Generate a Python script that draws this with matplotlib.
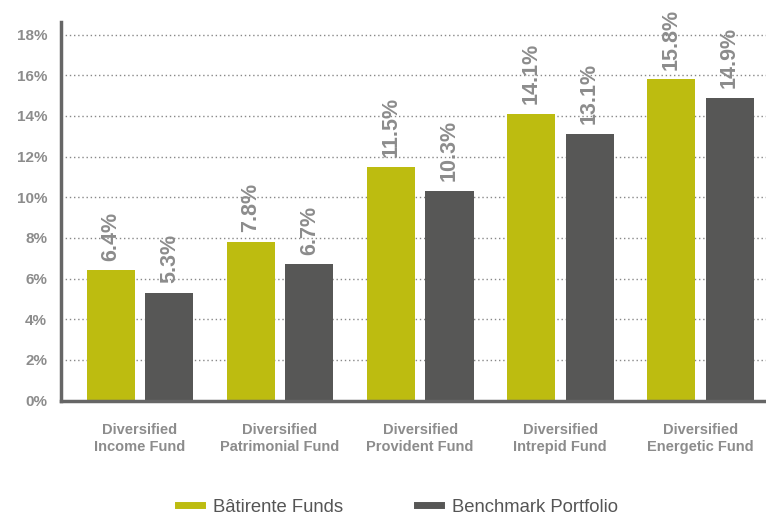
import matplotlib
matplotlib.use("Agg")
import matplotlib.pyplot as plt
import numpy as np
from matplotlib.lines import Line2D

categories = ["Diversified\nIncome Fund", "Diversified\nPatrimonial Fund", "Diversified\nProvident Fund",
              "Diversified\nIntrepid Fund", "Diversified\nEnergetic Fund"]
batirente = [6.4, 7.8, 11.5, 14.1, 15.8]
benchmark = [5.3, 6.7, 10.3, 13.1, 14.9]
series_names = ["Bâtirente Funds", "Benchmark Portfolio"]
yticks = [0, 2, 4, 6, 8, 10, 12, 14, 16, 18]

GREEN = "#BDBC10"
DARK = "#575756"
TXT = "#8C8C8C"

plt.rcParams['font.family'] = ["Liberation Sans", "DejaVu Sans"]

fig = plt.figure(figsize=(7.66, 5.16), dpi=100)
ax = fig.add_axes([61/766, 1-400.5/516, 1-61/766, (400.5-22)/516])

x = np.arange(len(categories))
w = 0.343
off = 0.21
b1 = ax.bar(x - off, batirente, w, color=GREEN, zorder=3)
b2 = ax.bar(x + off, benchmark, w, color=DARK, zorder=3)

for bars, vals in ((b1, batirente), (b2, benchmark)):
    for r, v in zip(bars, vals):
        ax.annotate(f"{v:.1f}%", (r.get_x() + r.get_width()/2, v), xytext=(0, 7),
                    textcoords="offset points", rotation=90, ha="center", va="bottom",
                    fontsize=15.5, fontweight="bold", color=TXT, zorder=4)

ax.set_xlim(-0.564, 4.47)
ax.set_ylim(0, 18.62)
ax.set_yticks(yticks)
ax.set_yticklabels([f"{t}%" for t in yticks], fontsize=11, fontweight="bold", color=TXT)
ax.set_xticks(x)
ax.set_xticklabels(categories, fontsize=10.5, fontweight="bold", color=TXT, linespacing=1.3)
ax.tick_params(axis="both", length=0)
ax.tick_params(axis="y", pad=10)
ax.tick_params(axis="x", pad=16)
ax.yaxis.grid(True, linestyle=(0, (1, 2)), color="#888888", linewidth=1.0, zorder=0)
for s in ["top", "right"]:
    ax.spines[s].set_visible(False)
for s in ["left", "bottom"]:
    ax.spines[s].set_color("#666666")
    ax.spines[s].set_linewidth(2.5)
    ax.spines[s].set_zorder(5)

handles = [Line2D([0], [0], color=GREEN, lw=5), Line2D([0], [0], color=DARK, lw=5)]
leg = fig.legend(handles, series_names, loc="center", bbox_to_anchor=(0.52, 1-507/516), ncol=2,
                 frameon=False, fontsize=13.3, handlelength=1.3, handletextpad=0.6, columnspacing=4.0,
                 labelcolor="#555555")

fig.savefig("out.png", dpi=100)
